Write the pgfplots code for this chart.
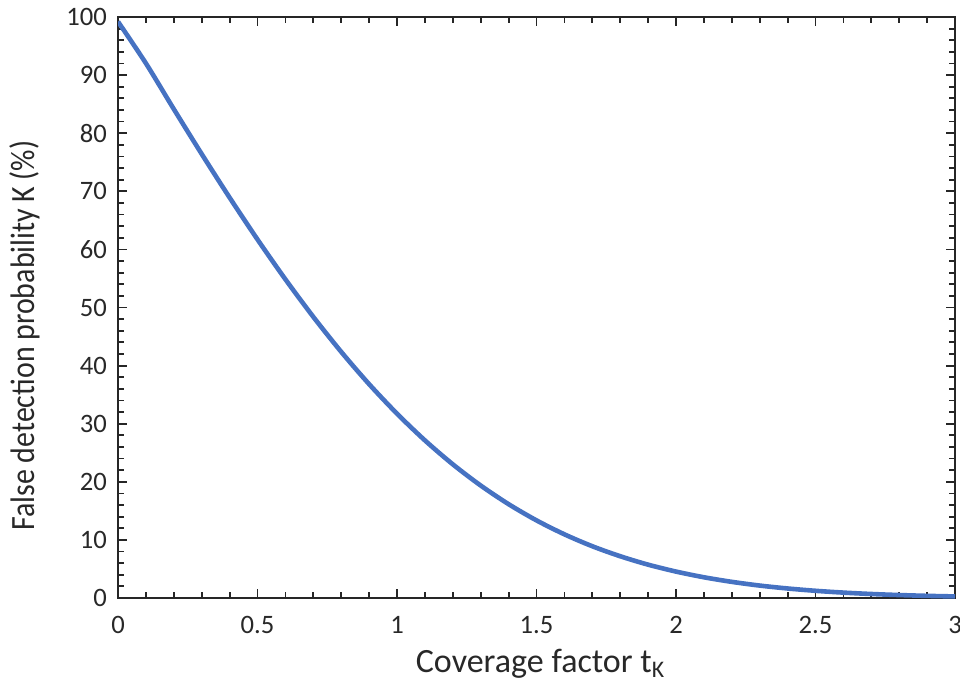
\documentclass[border=0pt]{standalone}
\usepackage{fontspec}
\setmainfont{Carlito}
\newfontfamily\ylabfont[FakeStretch=0.88]{Carlito}
\usepackage{pgfplots}
\pgfplotsset{compat=1.18}
\usetikzlibrary{calc}
\definecolor{lineblue}{RGB}{70,114,194}
\definecolor{txt}{RGB}{40,40,40}
\begin{document}
\begin{tikzpicture}
\begin{axis}[
  width=418.5pt, height=290.5pt, scale only axis,
  xmin=0, xmax=3, ymin=0, ymax=100,
  xtick={0,0.5,...,3}, ytick={0,10,...,100},
  xticklabels={0,0.5,1,1.5,2,2.5,3},
  minor x tick num=4, minor y tick num=4,
  tick align=inside, major tick length=4.5pt, minor tick length=3pt,
  tick style={line width=0.9pt, black!85},
  axis line style={line width=1pt, black!85},
  /pgf/number format/assume math mode=true,
  ticklabel style={font=\fontsize{13.3}{15}\selectfont, txt},
  xticklabel style={yshift=-5.6pt},
  yticklabel style={xshift=-2pt},
  xlabel={Coverage factor t$_\mathrm{K}$},
  ylabel={False detection probability K (\%)},
  xlabel style={font=\fontsize{17}{19}\selectfont, txt,
    at={($(axis description cs:0.5,0)+(2pt,-37pt)$)}, anchor=base},
  ylabel style={font=\ylabfont\fontsize{17}{19}\selectfont, txt,
    at={($(axis description cs:0,0.5)+(-41.5pt,-14pt)$)}, anchor=base},
]
\addplot[lineblue, line width=2.3pt, smooth] coordinates {
(0,99.2)(0.1,92.03)(0.2,84.15)(0.3,76.42)(0.4,68.92)(0.5,61.71)
(0.6,54.85)(0.7,48.39)(0.8,42.37)(0.9,36.81)(1.0,31.73)
(1.1,27.13)(1.2,23.01)(1.3,19.36)(1.4,16.15)(1.5,13.36)
(1.6,10.96)(1.7,8.91)(1.8,7.19)(1.9,5.74)(2.0,4.55)
(2.1,3.57)(2.2,2.78)(2.3,2.14)(2.4,1.64)(2.5,1.24)
(2.6,0.93)(2.7,0.69)(2.8,0.51)(2.9,0.37)(3.0,0.27)
};
\end{axis}
\pgfresetboundingbox
\path ([shift={(-59pt,-43.5pt)}]current axis.south west) rectangle ([shift={(2.5pt,8.5pt)}]current axis.north east);
\end{tikzpicture}
\end{document}
